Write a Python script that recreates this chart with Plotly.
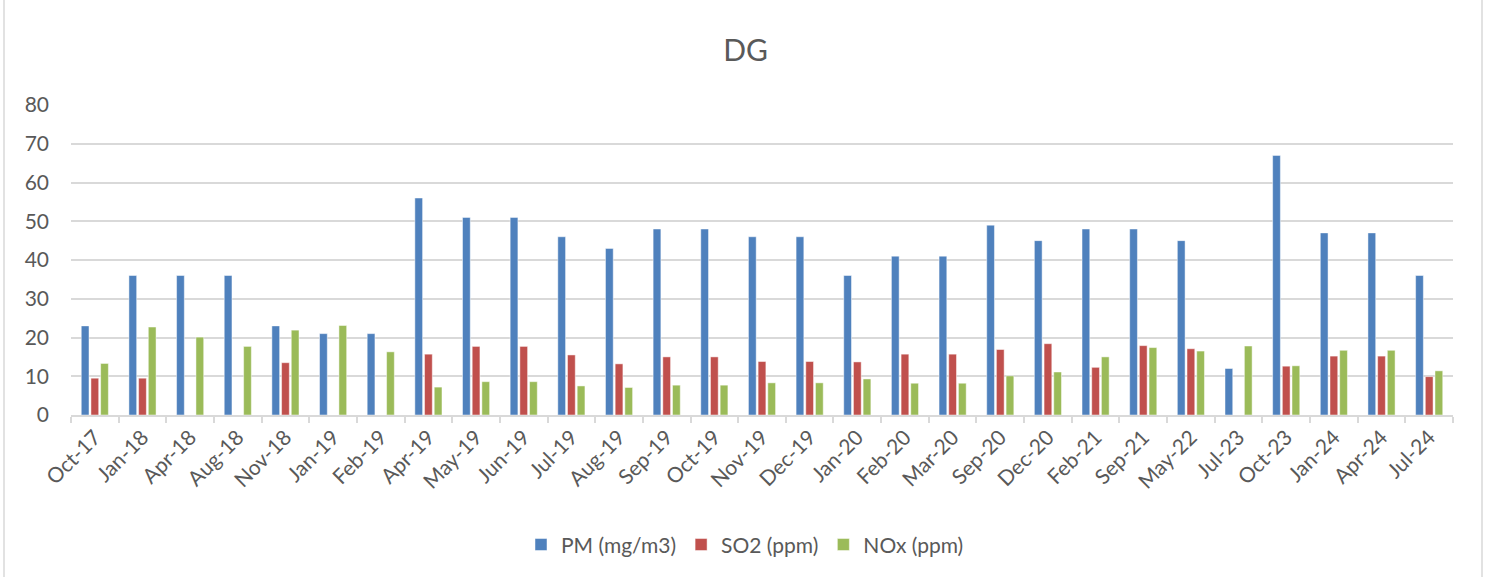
import plotly.graph_objects as go

# Monitoring dates
categories = ["Oct-17", "Jan-18", "Apr-18", "Aug-18", "Nov-18", "Jan-19", "Feb-19",
              "Apr-19", "May-19", "Jun-19", "Jul-19", "Aug-19", "Sep-19", "Oct-19",
              "Nov-19", "Dec-19", "Jan-20", "Feb-20", "Mar-20", "Sep-20", "Dec-20",
              "Feb-21", "Sep-21", "May-22", "Jul-23", "Oct-23", "Jan-24", "Apr-24", "Jul-24"]

# Emission readings per date (None = not measured)
pm = [23, 36, 36, 36, 23, 21, 21, 56, 51, 51, 46, 43, 48, 48, 46, 46, 36, 41, 41,
      49, 45, 48, 48, 45, 12, 67, 47, 47, 36]
so2 = [9.5, 9.5, None, None, 13.5, None, None, 15.7, 17.7, 17.7, 15.5, 13.2, 15.0,
       15.0, 13.8, 13.8, 13.7, 15.7, 15.7, 16.9, 18.4, 12.3, 17.9, 17.1, None, 12.6,
       15.2, 15.2, 9.9]
nox = [13.3, 22.7, 20.1, 17.7, 21.9, 23.1, 16.3, 7.2, 8.6, 8.6, 7.5, 7.1, 7.7, 7.7,
       8.3, 8.3, 9.3, 8.2, 8.2, 10.1, 11.1, 15.0, 17.4, 16.5, 17.8, 12.7, 16.7, 16.7,
       11.4]

series_names = ["PM (mg/m3)", "SO2 (ppm)", "NOx (ppm)"]
series_colors = ["#4F81BD", "#C0504D", "#9BBB59"]
y_ticks = [0, 10, 20, 30, 40, 50, 60, 70, 80]

text_color = "#595959"
grid_color = "#D9D9D9"
font_family = "Lato, 'Open Sans', sans-serif"

fig = go.Figure()
for name, vals, col in zip(series_names, [pm, so2, nox], series_colors):
    fig.add_trace(go.Bar(
        x=categories, y=vals, name=name,
        marker=dict(color=col, line=dict(color="rgba(255,255,255,0.6)", width=0.8)),
    ))

fig.update_layout(
    width=1491, height=577,
    margin=dict(l=71, r=38, t=105, b=162),
    paper_bgcolor="white", plot_bgcolor="white",
    barmode="group", bargap=0.39, bargroupgap=0.2,
    font=dict(family=font_family, color=text_color, size=20),
    title=dict(text="DG", x=0.5, xref="container", xanchor="center",
               y=1 - 50 / 577, yanchor="middle",
               font=dict(size=30, color=text_color, family=font_family)),
    legend=dict(orientation="h", x=0.4877, xanchor="center", y=-0.419, yanchor="middle",
                font=dict(size=21, color=text_color), itemwidth=30,
                traceorder="normal"),
    showlegend=True,
)

fig.update_yaxes(
    range=[0, 80], tickvals=y_ticks, showgrid=True, gridcolor=grid_color, gridwidth=1.5,
    zeroline=False, showline=False, ticks="", ticklabelstandoff=21,
    tickfont=dict(size=21, color=text_color),
)
fig.update_xaxes(
    type="category", tickangle=-45, showline=True, linecolor=grid_color, linewidth=1.5,
    ticks="outside", tickson="boundaries", ticklen=6, tickcolor=grid_color, tickwidth=1.5,
    tickfont=dict(size=21, color=text_color), showgrid=False,
)

# Chart area border
fig.add_shape(type="rect", xref="paper", yref="paper",
              x0=(4 - 71) / 1382, x1=(1482 - 71) / 1382,
              y0=(415 - 590) / 310, y1=(415 + 1) / 310,
              line=dict(color="#D9D9D9", width=1.5), fillcolor="rgba(0,0,0,0)",
              layer="below")

fig.write_html("out.html")
